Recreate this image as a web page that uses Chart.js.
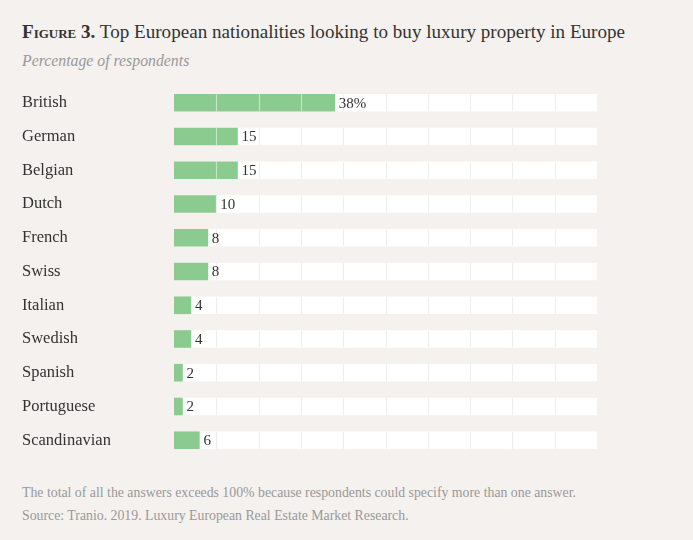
<!DOCTYPE html>
<html>
<head>
<meta charset="utf-8">
<script src="https://cdn.jsdelivr.net/npm/chart.js@4"></script>
<style>
  body { margin: 0; background: #f4f1ee; width: 693px; height: 540px; overflow: hidden; position: relative; font-family: "Liberation Serif", "DejaVu Serif", serif; }
  #titulo { position: absolute; left: 22px; top: 21px; font-size: 19.1px; color: #333; white-space: nowrap; }
  #titulo b { font-variant: small-caps; font-weight: bold; }
  #subtitulo { position: absolute; left: 22px; top: 52px; font-size: 15.8px; font-style: italic; color: #999; }
  #caja { position: absolute; left: 0; top: 76px; width: 693px; height: 391px; }
  .nota { position: absolute; left: 22px; font-size: 13.8px; color: #999; white-space: nowrap; }
</style>
</head>
<body>
<div id="titulo"><b>Figure 3.</b> Top European nationalities looking to buy luxury property in Europe</div>
<div id="subtitulo">Percentage of respondents</div>
<div id="caja"><canvas id="grafico"></canvas></div>
<div class="nota" style="top:485px">The total of all the answers exceeds 100% because respondents could specify more than one answer.</div>
<div class="nota" style="top:508px">Source: Tranio. 2019. Luxury European Real Estate Market Research.</div>
<script>
const paises = ["British", "German", "Belgian", "Dutch", "French", "Swiss", "Italian", "Swedish", "Spanish", "Portuguese", "Scandinavian"]
const valores = [38, 15, 15, 10, 8, 8, 4, 4, 2, 2, 6]
const fondo = [100, 100, 100, 100, 100, 100, 100, 100, 100, 100, 100]
const etiquetas = ["38%", "15", "15", "10", "8", "8", "4", "4", "2", "2", "6"]
const marcas = [10, 20, 30, 40, 50, 60, 70, 80, 90]

// lineas finas dentro de las barras y los numeros al final
const rayas = {
    id: "rayas",
    afterDatasetsDraw(chart) {
        let ctx = chart.ctx
        let x = chart.scales.x
        let verdes = chart.getDatasetMeta(0).data
        let blancas = chart.getDatasetMeta(1).data
        ctx.save()
        ctx.lineWidth = 1.2
        blancas.forEach((b, i) => {
            let arriba = b.y - b.height / 2
            let abajo = b.y + b.height / 2
            let fin = verdes[i].x
            marcas.forEach(m => {
                let px = Math.round(x.getPixelForValue(m)) + 0.5
                ctx.strokeStyle = px < fin ? "rgba(255,255,255,0.5)" : "#efefef"
                ctx.beginPath()
                ctx.moveTo(px, arriba)
                ctx.lineTo(px, abajo)
                ctx.stroke()
            })
        })
        ctx.fillStyle = "#333"
        ctx.font = "15px 'Liberation Serif', serif"
        ctx.textBaseline = "middle"
        verdes.forEach((b, i) => {
            ctx.fillText(etiquetas[i], b.x + 4, b.y + 1)
        })
        ctx.restore()
    }
}

let miGrafico = new Chart(document.getElementById("grafico"), {
    type: "bar",
    data: {
        labels: paises,
        datasets: [{
            data: valores,
            backgroundColor: "#8bcb8f",
            barThickness: 17,
            grouped: false,
            order: 0
        }, {
            data: fondo,
            backgroundColor: "#ffffff",
            barThickness: 17,
            grouped: false,
            order: 1
        }]
    },
    options: {
        indexAxis: "y",
        responsive: true,
        maintainAspectRatio: false,
        animation: false,
        layout: { padding: { left: 22, right: 96, top: 0, bottom: 0 } },
        plugins: { legend: { display: false }, tooltip: { enabled: false } },
        scales: {
            x: { display: false, min: 0, max: 100 },
            y: {
                grid: { display: false },
                border: { display: false },
                afterFit: (s) => { s.width = 152 },
                ticks: {
                    crossAlign: "far",
                    padding: 0,
                    color: "#333",
                    font: { family: "'Liberation Serif', serif", size: 16.5 }
                }
            }
        }
    },
    plugins: [rayas]
})
</script>
</body>
</html>
